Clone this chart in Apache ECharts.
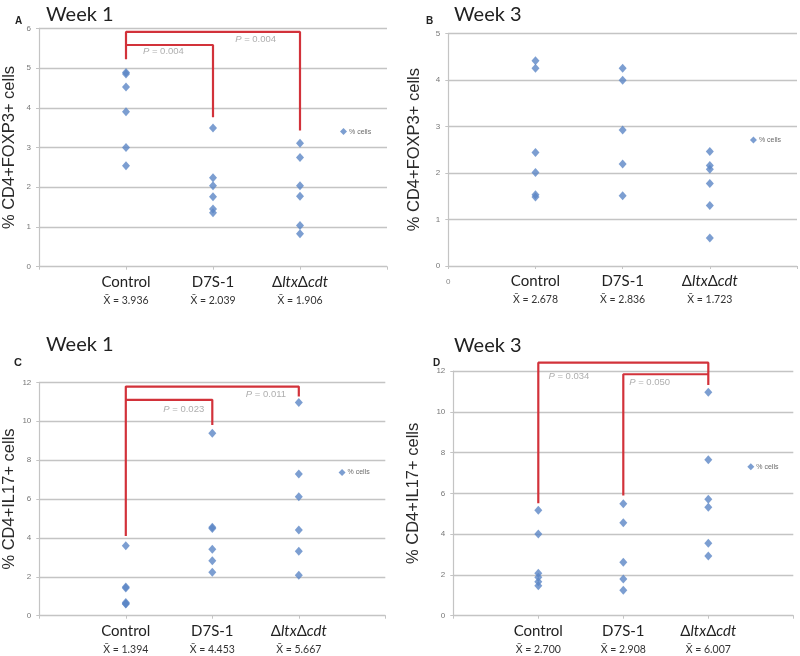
<!DOCTYPE html>
<html><head><meta charset="utf-8">
<script src="https://cdn.jsdelivr.net/npm/echarts@6/dist/echarts.min.js"></script>
<style>html,body{margin:0;padding:0;background:#fff}#c{width:800px;height:656px}</style>
</head><body><div id="c"></div>
<script>
// ---- data ----
const categories = ['Control', 'D7S-1', 'ΔltxΔcdt'];
const catX = [1, 2, 3];
const legendX = 3.5;

// Panel A (Week 1, FOXP3)
const aControl = [4.89, 4.85, 4.52, 3.90, 3.00, 2.54];
const aD7S = [3.49, 2.24, 2.04, 1.76, 1.45, 1.36];
const aDelta = [3.11, 2.75, 2.04, 1.77, 1.04, 0.83];
const aMeans = ['3.936', '2.039', '1.906'];
const aLegendY = 3.40;
const aBr1 = [[1, 5.22], [1, 5.91], [3, 5.91], [3, 3.43]];
const aBr2 = [[1, 5.58], [2, 5.58], [2, 3.76]];
const aP = [[1.43, 5.41, '0.004'], [2.49, 5.71, '0.004']];

// Panel B (Week 3, FOXP3)
const bControl = [4.41, 4.25, 2.44, 2.01, 1.53, 1.48];
const bD7S = [4.25, 3.99, 2.92, 2.19, 1.51];
const bDelta = [2.46, 2.16, 2.08, 1.77, 1.30, 0.60];
const bMeans = ['2.678', '2.836', '1.723'];
const bLegendY = 2.71;

// Panel C (Week 1, IL17)
const cControl = [3.60, 1.48, 1.42, 0.68, 0.62, 0.60];
const cD7S = [9.38, 4.55, 4.48, 3.42, 2.83, 2.23];
const cDelta = [10.96, 7.29, 6.11, 4.41, 3.31, 2.08];
const cMeans = ['1.394', '4.453', '5.667'];
const cLegendY = 7.36;
const cBr1 = [[1, 4.10], [1, 11.78], [3, 11.78], [3, 11.27]];
const cBr2 = [[1, 11.1], [2, 11.1], [2, 9.81]];
const cP = [[1.67, 10.63, '0.023'], [2.62, 11.4, '0.011']];

// Panel D (Week 3, IL17)
const dControl = [5.17, 4.01, 2.08, 1.88, 1.67, 1.47];
const dD7S = [5.49, 4.56, 2.62, 1.80, 1.25];
const dDelta = [10.96, 7.65, 5.71, 5.32, 3.55, 2.93];
const dMeans = ['2.700', '2.908', '6.007'];
const dLegendY = 7.31;
const dBr1 = [[1, 5.51], [1, 12.41], [3, 12.41], [3, 11.31]];
const dBr2 = [[2, 5.89], [2, 11.84], [3, 11.84]];
const dP = [[1.36, 11.72, '0.034'], [2.31, 11.45, '0.050']];

// ---- styling ----
const BLUE = '#5b86c5';
const RED = '#d2323a';
const GRID = '#c4c4c4';

const catLabel = [
  '{c|Control}', '{c|D7S-1}', '{c|Δ}{ci|ltx}{c|Δ}{ci|cdt}'
];

function xAxisFor(gi, means, showZero) {
  return {
    type: 'value', gridIndex: gi, min: 0, max: 4, interval: 1,
    splitLine: { show: false },
    axisLine: { show: true, lineStyle: { color: GRID, width: 1.2 } },
    axisTick: { show: true, length: 3, lineStyle: { color: GRID } },
    axisLabel: {
      margin: 6,
      formatter: function (v) {
        if (v === 0 && showZero) return '{z|0}';
        const i = Math.round(v) - 1;
        if (i < 0 || i > 2 || v !== Math.round(v)) return '';
        return catLabel[i] + '\n{m|X̄ = ' + means[i] + '}';
      },
      rich: {
        c: { fontFamily: 'Lato', fontSize: 15, color: '#222', lineHeight: 19 },
        ci: { fontFamily: 'Lato', fontSize: 15, color: '#222', lineHeight: 19, fontStyle: 'italic' },
        m: { fontFamily: 'Lato', fontSize: 10.5, color: '#333', lineHeight: 17 },
        z: { fontFamily: 'Liberation Sans', fontSize: 8, color: '#888', lineHeight: 19 }
      }
    }
  };
}
function yAxisFor(gi, max, interval, name, gap) {
  return {
    type: 'value', gridIndex: gi, min: 0, max: max, interval: interval,
    name: name, nameLocation: 'middle', nameRotate: 90, nameGap: gap,
    nameTextStyle: { fontFamily: 'Liberation Sans', fontSize: 16.5, color: '#2a2a2a' },
    axisLine: { show: true, lineStyle: { color: GRID, width: 1.2 } },
    axisTick: { show: true, length: 3, lineStyle: { color: GRID } },
    axisLabel: { fontFamily: 'Liberation Sans', fontSize: 8, color: '#777', margin: 8 },
    splitLine: { show: true, lineStyle: { color: GRID, width: 1.3 } }
  };
}
function pts(xv, arr) { return arr.map(v => [xv, v]); }
function scatterSeries(gi, groups) {
  return groups.map((arr, k) => ({
    type: 'scatter', xAxisIndex: gi, yAxisIndex: gi,
    symbol: 'diamond', symbolSize: [8, 9],
    itemStyle: { color: BLUE },
    data: pts(catX[k], arr), z: 5
  }));
}
function legendSeries(gi, y) {
  return {
    type: 'scatter', xAxisIndex: gi, yAxisIndex: gi,
    symbol: 'diamond', symbolSize: [7, 7], itemStyle: { color: BLUE },
    data: [[legendX, y]],
    label: { show: true, position: 'right', distance: 2, formatter: '% cells',
      fontFamily: 'Liberation Sans', fontSize: 7, color: '#444' }
  };
}
function bracketSeries(gi, path) {
  return {
    type: 'line', xAxisIndex: gi, yAxisIndex: gi, clip: false,
    symbol: 'none', lineStyle: { color: RED, width: 2.2 },
    data: path, z: 3, animation: false
  };
}
function pSeries(gi, arr) {
  return {
    type: 'scatter', xAxisIndex: gi, yAxisIndex: gi, clip: false,
    symbolSize: 0, silent: true,
    data: arr.map(p => ({ value: [p[0], p[1]], txt: p[2] })),
    label: {
      show: true, position: 'inside',
      formatter: (prm) => '{i|P} = ' + prm.data.txt,
      fontFamily: 'Liberation Sans', fontSize: 9.5, color: '#9a9a9a',
      rich: { i: { fontFamily: 'Liberation Sans', fontSize: 9.5, color: '#9a9a9a', fontStyle: 'italic' } }
    }
  };
}

const titleStyle = { fontFamily: 'Lato', fontSize: 20, fontWeight: 'normal', color: '#222' };
const letterStyle = { fontFamily: 'Liberation Sans', fontSize: 10, fontWeight: 'bold', color: '#222' };

const option = {
  animation: false,
  backgroundColor: '#fff',
  title: [
    { text: 'Week 1', left: 41, top: 0, textStyle: titleStyle },
    { text: 'A', left: 10, top: 11, textStyle: letterStyle },
    { text: 'Week 3', left: 449, top: 0, textStyle: titleStyle },
    { text: 'B', left: 421, top: 11, textStyle: letterStyle },
    { text: 'Week 1', left: 41, top: 330, textStyle: titleStyle },
    { text: 'C', left: 9, top: 352, textStyle: Object.assign({}, letterStyle, { fontSize: 11 }) },
    { text: 'Week 3', left: 449, top: 331, textStyle: titleStyle },
    { text: 'D', left: 428, top: 353, textStyle: letterStyle }
  ],
  grid: [
    { left: 39, top: 28.3, width: 348, height: 238.4 },
    { left: 448.3, top: 33.3, width: 350, height: 232.7 },
    { left: 39.3, top: 382.3, width: 346, height: 233.4 },
    { left: 453.3, top: 371, width: 340, height: 244.7 }
  ],
  xAxis: [
    xAxisFor(0, aMeans, false),
    xAxisFor(1, bMeans, true),
    xAxisFor(2, cMeans, false),
    xAxisFor(3, dMeans, false)
  ],
  yAxis: [
    yAxisFor(0, 6, 1, '% CD4+FOXP3+ cells', 21),
    yAxisFor(1, 5, 1, '% CD4+FOXP3+ cells', 25),
    yAxisFor(2, 12, 2, '% CD4+IL17+ cells', 21),
    yAxisFor(3, 12, 2, '% CD4+IL17+ cells', 31)
  ],
  series: [].concat(
    scatterSeries(0, [aControl, aD7S, aDelta]),
    [legendSeries(0, aLegendY), bracketSeries(0, aBr1), bracketSeries(0, aBr2), pSeries(0, aP)],
    scatterSeries(1, [bControl, bD7S, bDelta]),
    [legendSeries(1, bLegendY)],
    scatterSeries(2, [cControl, cD7S, cDelta]),
    [legendSeries(2, cLegendY), bracketSeries(2, cBr1), bracketSeries(2, cBr2), pSeries(2, cP)],
    scatterSeries(3, [dControl, dD7S, dDelta]),
    [legendSeries(3, dLegendY), bracketSeries(3, dBr1), bracketSeries(3, dBr2), pSeries(3, dP)]
  )
};
const chart = echarts.init(document.getElementById('c'), null, { renderer: 'canvas' });
chart.setOption(option);
</script>
</body></html>
